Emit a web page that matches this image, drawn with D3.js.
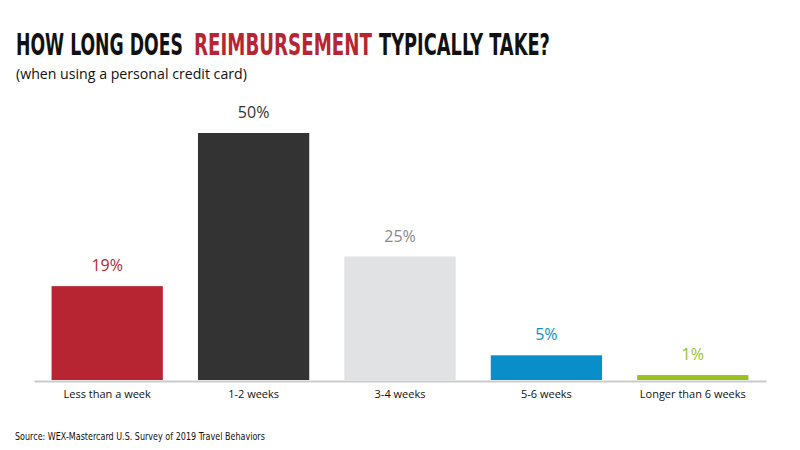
<!DOCTYPE html>
<html lang="en">
  <head>
    <title>Reimbursement chart</title>
    <meta charset="utf-8" />
    <script src="https://d3js.org/d3.v7.min.js"></script>
    <style>
      body { margin: 0; background: #ffffff; }
      text { font-family: "Liberation Sans Narrow", "DejaVu Sans Condensed", "Noto Sans", sans-serif; }
    </style>
  </head>
  <body>
    <svg width="800" height="450" xmlns="http://www.w3.org/2000/svg" id="target"></svg>
    <script>
        const categories = ["Less than a week", "1-2 weeks", "3-4 weeks", "5-6 weeks", "Longer than 6 weeks"];
        const values = [19, 50, 25, 5, 1];
        const barColors = ["#b72533", "#333333", "#e1e2e4", "#0a8ec9", "#99c31c"];
        const labelColors = ["#b72533", "#333333", "#8a8a8a", "#0a8ec9", "#99c31c"];

        // title pieces: text, x, width, colour
        const titleParts = [
          {text: "HOW LONG DOES", x: 16, w: 167, fill: "#111111"},
          {text: "REIMBURSEMENT", x: 194, w: 178, fill: "#b72533"},
          {text: "TYPICALLY TAKE?", x: 379, w: 171, fill: "#111111"}
        ];

        const svg = d3.select("#target");
        svg.append("rect")
          .attr("width", 800)
          .attr("height", 450)
          .attr("fill", "#ffffff");

        // squeeze a text horizontally so it spans width w
        function fitWidth(sel, x, y, w){
          sel.each(function(){
            const nat = this.getComputedTextLength();
            const sx = w / nat;
            d3.select(this)
              .attr("x", 0)
              .attr("y", 0)
              .attr("transform", "translate(" + x + "," + y + ") scale(" + sx + ",1)");
          });
        }

        // title
        svg.selectAll("text.title")
          .data(titleParts)
          .enter()
          .append("text")
          .attr("class", "title")
          .attr("font-size", 31)
          .attr("font-weight", "bold")
          .attr("fill", d => d.fill)
          .text(d => d.text)
          .each(function(d){ fitWidth(d3.select(this), d.x, 55, d.w); });

        svg.append("text")
          .attr("font-size", 15)
          .attr("fill", "#111111")
          .style("font-family", "'Open Sans', 'Noto Sans', sans-serif")
          .text("(when using a personal credit card)")
          .call(fitWidth, 16, 79, 231);

        // scales
        const x = d3.scaleBand()
          .domain(categories)
          .range([34, 766])
          .paddingInner(0.24)
          .paddingOuter(0.12);

        const y = d3.scaleLinear()
          .domain([0, 50])
          .range([380, 133]);

        // bars
        svg.selectAll("rect.bar")
          .data(values)
          .enter()
          .append("rect")
          .attr("class", "bar")
          .attr("x", (d, i) => x(categories[i]))
          .attr("y", d => y(d))
          .attr("width", x.bandwidth())
          .attr("height", d => y(0) - y(d))
          .attr("fill", (d, i) => barColors[i]);

        // value labels
        svg.selectAll("text.val")
          .data(values)
          .enter()
          .append("text")
          .attr("class", "val")
          .attr("x", (d, i) => x(categories[i]) + x.bandwidth() / 2)
          .attr("y", d => y(d) - 15)
          .attr("text-anchor", "middle")
          .attr("font-size", 16)
          .attr("fill", (d, i) => labelColors[i])
          .style("font-family", "'Open Sans', 'Noto Sans', sans-serif")
          .text(d => d + "%");

        // x axis
        const xAxis = svg.append("g")
          .attr("transform", "translate(0,381)")
          .call(d3.axisBottom(x).tickSize(0).tickPadding(9));
        xAxis.select(".domain")
          .attr("stroke", "#cccccc")
          .attr("stroke-width", 2);
        xAxis.selectAll(".tick text")
          .attr("font-size", 11)
          .attr("fill", "#111111")
          .style("font-family", "'Open Sans', 'Noto Sans', sans-serif");

        // source
        svg.append("text")
          .attr("font-size", 11)
          .attr("fill", "#111111")
          .text("Source: WEX-Mastercard U.S. Survey of 2019 Travel Behaviors")
          .call(fitWidth, 15, 440, 250);
    </script>
  </body>
</html>
